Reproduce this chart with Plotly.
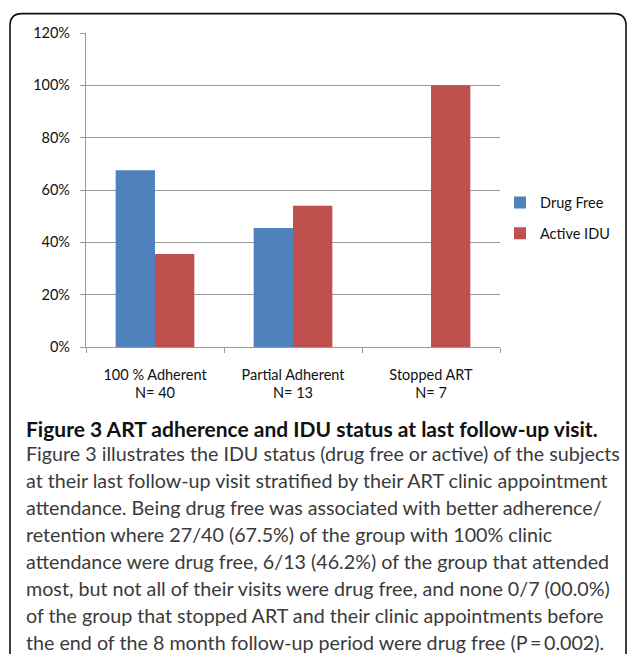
import plotly.graph_objects as go

categories = ["100 % Adherent<br>N= 40", "Partial Adherent<br>N= 13", "Stopped ART<br>N= 7"]
drug_free = [0.675, 0.455, 0.0]
active_idu = [0.355, 0.54, 1.0]
y_ticks = [0, 0.2, 0.4, 0.6, 0.8, 1.0, 1.2]

caption_title = "Figure 3 ART adherence and IDU status at last follow-up visit."
caption_lines = [
    "Figure 3 illustrates the IDU status (drug free or active) of the subjects",
    "at their last follow-up visit stratified by their ART clinic appointment",
    "attendance. Being drug free was associated with better adherence/",
    "retention where 27/40 (67.5%) of the group with 100% clinic",
    "attendance were drug free, 6/13 (46.2%) of the group that attended",
    "most, but not all of their visits were drug free, and none 0/7 (00.0%)",
    "of the group that stopped ART and their clinic appointments before",
    "the end of the 8 month follow-up period were drug free (P\u2009=\u20090.002).",
]

W, H = 627, 654
PL, PR = 86, 500
PT, PB = 33.3, 346.7


def px(x):
    return (x - PL) / (PR - PL)


def py(y):
    return (PB - y) / (PB - PT)


FONT = "Lato, 'Open Sans', sans-serif"

fig = go.Figure()
fig.add_trace(go.Bar(x=categories, y=drug_free, name="Drug Free",
                     marker=dict(color="#4F81BD", line=dict(width=0)),
                     legendgroup="a"))
fig.add_trace(go.Bar(x=categories, y=active_idu, name="Active IDU",
                     marker=dict(color="#C0504D", line=dict(width=0)),
                     legendgroup="b"))

# rounded frame
r = 12
x0, y0, x1, y1 = 10, 14, 626, 670
path = (f"M {px(x0)},{py(y1)} L {px(x0)},{py(y0 + r)} "
        f"Q {px(x0)},{py(y0)} {px(x0 + r)},{py(y0)} "
        f"L {px(x1 - r)},{py(y0)} Q {px(x1)},{py(y0)} {px(x1)},{py(y0 + r)} "
        f"L {px(x1)},{py(y1)}")
shapes = [dict(type="path", xref="paper", yref="paper", path=path,
               line=dict(color="#111111", width=1.6))]

annotations = [dict(xref="paper", yref="paper", x=px(24), y=py(428),
                    xanchor="left", yanchor="middle", showarrow=False,
                    text="<b>" + caption_title + "</b>",
                    font=dict(family=FONT, size=21, color="#111111"))]
for i, line in enumerate(caption_lines):
    annotations.append(dict(xref="paper", yref="paper", x=px(24), y=py(453 + i * 26.9),
                            xanchor="left", yanchor="middle", showarrow=False,
                            text=line,
                            font=dict(family=FONT, size=19.7, color="#3a3a3a")))

fig.update_layout(
    width=W, height=H,
    margin=dict(l=PL, r=W - PR, t=PT, b=H - PB, pad=0, autoexpand=False),
    paper_bgcolor="white", plot_bgcolor="white",
    barmode="group", bargap=0.43, bargroupgap=0,
    font=dict(family=FONT, size=14.5, color="#111111"),
    showlegend=True,
    legend=dict(x=px(500), y=py(218), xanchor="left", yanchor="middle",
                font=dict(family=FONT, size=14.5, color="#111111"),
                tracegroupgap=9, bgcolor="rgba(0,0,0,0)"),
    xaxis=dict(showline=True, linecolor="#9a9a9a", linewidth=1.2,
               ticks="outside", tickson="boundaries", ticklen=5,
               tickcolor="#9a9a9a", tickfont=dict(size=14.5, color="#111111"),
               ticklabelstandoff=14,
               showgrid=False, fixedrange=True, automargin=False),
    yaxis=dict(range=[0, 1.2], tickvals=y_ticks, tickformat=".0%",
               showline=True, linecolor="#9a9a9a", linewidth=1.2,
               ticks="outside", ticklen=5, tickcolor="#9a9a9a",
               gridcolor="#9a9a9a", gridwidth=1.2, zeroline=False,
               ticklabelstandoff=7,
               tickfont=dict(size=14.5, color="#111111"), fixedrange=True,
               automargin=False),
    shapes=shapes,
    annotations=annotations,
)

fig.write_html("out.html", config=dict(displayModeBar=False),
               post_script="document.body.style.margin='0';document.body.style.overflow='hidden';")
